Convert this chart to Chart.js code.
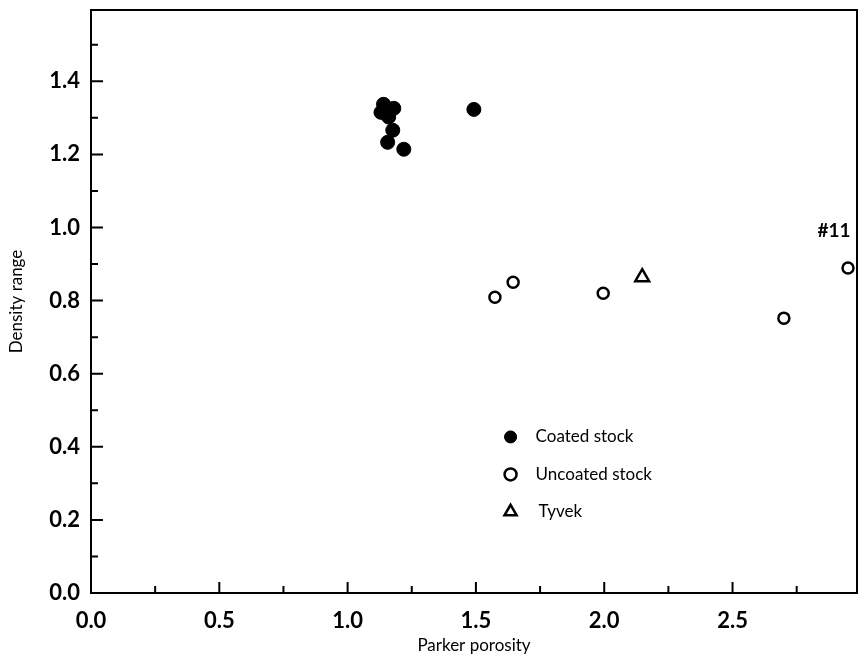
<!DOCTYPE html>
<html>
<head>
<meta charset="utf-8">
<script src="https://cdn.jsdelivr.net/npm/chart.js@4/dist/chart.umd.min.js"></script>
<style>
  html, body { margin: 0; padding: 0; background: #fff; }
  #wrap { width: 860px; height: 656px; }
</style>
</head>
<body>
<div id="wrap"><canvas id="container"></canvas></div>
<script>
// porosity vs density range, per paper stock
const coatedX = [1.14, 1.18, 1.13, 1.16, 1.176, 1.156, 1.219, 1.492]
const coatedY = [1.337, 1.326, 1.315, 1.302, 1.266, 1.233, 1.214, 1.323]
const uncoatedX = [1.574, 1.645, 1.996, 2.70, 2.95]
const uncoatedY = [0.809, 0.850, 0.820, 0.752, 0.889]
const tyvekX = [2.148]
const tyvekY = [0.864]

const xTickValues = [0, 0.5, 1.0, 1.5, 2.0, 2.5]
const yTickValues = [0, 0.2, 0.4, 0.6, 0.8, 1.0, 1.2, 1.4]

const legendLabels = ['Coated stock', 'Uncoated stock', 'Tyvek']
const pointNote = '#11'   // label for the last uncoated sample

const xMax = 2.985
const yMax = 1.595

const font = 'Lato, "DejaVu Sans", sans-serif'

const toPoints = (xs, ys) => xs.map((x, i) => ({ x: x, y: ys[i] }))

const styles = [
  { pointStyle: 'circle', radius: 7, borderWidth: 1, bg: '#000' },
  { pointStyle: 'circle', radius: 5.5, borderWidth: 2.5, bg: '#fff' },
  { pointStyle: 'triangle', radius: 8, borderWidth: 2.5, bg: '#fff' }
]

// frame, inward ticks, legend and the #11 note
const decorations = {
  id: 'decorations',
  afterDraw(chart) {
    const { ctx, chartArea: a, scales: { x, y } } = chart
    ctx.save()
    ctx.strokeStyle = '#000'
    ctx.lineWidth = 2
    ctx.strokeRect(a.left, a.top, a.right - a.left, a.bottom - a.top)

    ctx.beginPath()
    for (let i = 1; i * 0.25 < xMax; i++) {
      const px = x.getPixelForValue(i * 0.25)
      const len = i % 2 === 0 ? 11 : 7
      ctx.moveTo(px, a.bottom)
      ctx.lineTo(px, a.bottom - len)
    }
    for (let i = 1; i * 0.1 < yMax; i++) {
      const py = y.getPixelForValue(i * 0.1)
      const len = i % 2 === 0 ? 12 : 7
      ctx.moveTo(a.left, py)
      ctx.lineTo(a.left + len, py)
    }
    ctx.stroke()

    // legend
    const lx = x.getPixelForValue(1.635)
    ctx.font = '17px ' + font
    ctx.textBaseline = 'middle'
    ctx.fillStyle = '#000'
    legendLabels.forEach((label, i) => {
      const ly = y.getPixelForValue(0.427 - i * 0.1025)
      const s = styles[i]
      ctx.fillStyle = s.bg
      ctx.lineWidth = s.borderWidth
      Chart.helpers.drawPoint(ctx, {
        pointStyle: s.pointStyle,
        radius: s.pointStyle === 'triangle' ? 7 : 6,
        rotation: 0,
        borderWidth: s.borderWidth
      }, lx, ly)
      if (i === 0) ctx.fill()
      ctx.fillStyle = '#000'
      ctx.fillText(label, lx + 25 + (i === 2 ? 3 : 0), ly)
    })

    // note above the last uncoated point
    const n = uncoatedX.length - 1
    ctx.font = 'bold 19px ' + font
    ctx.textAlign = 'center'
    ctx.fillText(pointNote, x.getPixelForValue(uncoatedX[n]) - 14, y.getPixelForValue(uncoatedY[n]) - 37)
    ctx.restore()
  }
}

const mkSet = (label, data, s) => ({
  label: label,
  data: data,
  pointStyle: s.pointStyle,
  pointRadius: s.radius,
  pointHoverRadius: s.radius,
  pointBorderWidth: s.borderWidth,
  pointBorderColor: '#000',
  pointBackgroundColor: s.bg
})

new Chart(document.querySelector('#container'), {
  type: 'scatter',
  data: {
    datasets: [
      mkSet(legendLabels[0], toPoints(coatedX, coatedY), styles[0]),
      mkSet(legendLabels[1], toPoints(uncoatedX, uncoatedY), styles[1]),
      mkSet(legendLabels[2], toPoints(tyvekX, tyvekY), styles[2])
    ]
  },
  options: {
    responsive: true,
    maintainAspectRatio: false,
    animation: false,
    layout: { autoPadding: false, padding: { top: 10, right: 3, left: 0, bottom: 0 } },
    plugins: { legend: { display: false }, tooltip: { enabled: false } },
    scales: {
      x: {
        type: 'linear',
        min: 0,
        max: xMax,
        grid: { display: false, drawTicks: false },
        border: { display: false },
        afterBuildTicks: s => { s.ticks = xTickValues.map(v => ({ value: v })) },
        ticks: {
          padding: 15,
          color: '#000',
          font: { family: font, size: 22, weight: 'bold' },
          callback: v => v.toFixed(1)
        },
        title: {
          display: true,
          text: 'Parker porosity',
          color: '#000',
          font: { family: font, size: 17 },
          padding: { top: 0, bottom: 0 }
        },
        afterFit: s => { s.height = 63; s.paddingLeft = 0; s.paddingRight = 0 }
      },
      y: {
        type: 'linear',
        min: 0,
        max: yMax,
        grid: { display: false, drawTicks: false },
        border: { display: false },
        afterBuildTicks: s => { s.ticks = yTickValues.map(v => ({ value: v })) },
        ticks: {
          padding: 11,
          color: '#000',
          font: { family: font, size: 22, weight: 'bold' },
          callback: v => v.toFixed(1)
        },
        title: {
          display: true,
          text: 'Density range',
          color: '#000',
          font: { family: font, size: 17 },
          padding: { top: 6, bottom: 0 }
        },
        afterFit: s => { s.width = 91; s.paddingTop = 0; s.paddingBottom = 0 }
      }
    }
  },
  plugins: [decorations]
})
</script>
</body>
</html>
